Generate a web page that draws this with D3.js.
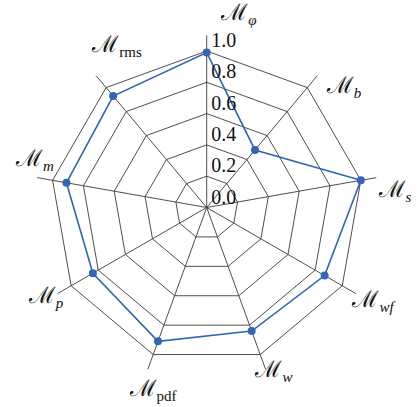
<!DOCTYPE html>
<html><head><meta charset="utf-8">
<script src="https://cdn.jsdelivr.net/npm/d3@7"></script>
<style>body{margin:0;background:#fff}</style></head>
<body>
<svg id="c" width="417" height="407"></svg>
<script>
// ---- data ----
const axisSubs = ["φ","b","s","wf","w","pdf","p","m","rms"];
const subItalic = [true,true,true,true,true,false,true,true,false];
const values = [0.99,0.48,1.0,0.87,0.84,0.91,0.84,0.91,0.93];
const ringTicks = [0.2,0.4,0.6,0.8,1.0];
const tickValues = [0.0,0.2,0.4,0.6,0.8,1.0];
const tickLabels = ["0.0","0.2","0.4","0.6","0.8","1.0"];

// ---- layout ----
const cx = 206.7, cy = 207.5, R = 156.5;
const labelCenters = [[239,13],[344,86],[395,190],[373,300],[274,370],[153,389],[46,296],[35,159],[117,45]];

const svg = d3.select("#c");
const g = svg.append("g").attr("transform", `translate(${cx},${cy})`);
const n = axisSubs.length;
const ang = d3.scaleLinear().domain([0, n]).range([0, 2*Math.PI]);
const r = d3.scaleLinear().domain([0, 1]).range([0, R]);
const idx = d3.range(n);

const ringLine = d3.lineRadial().angle((d,i)=>ang(i)).radius(d=>r(d)).curve(d3.curveLinearClosed);

// rings
g.selectAll("path.ring").data(ringTicks).join("path")
  .attr("class","ring")
  .attr("d", t => ringLine(idx.map(()=>t)))
  .attr("fill","none").attr("stroke","#3a3a3a").attr("stroke-width",0.9);

// spokes
g.selectAll("line.spoke").data(idx).join("line")
  .attr("class","spoke")
  .attr("x1",0).attr("y1",0)
  .attr("x2", i => r(1.1)*Math.sin(ang(i)))
  .attr("y2", i => -r(1.1)*Math.cos(ang(i)))
  .attr("stroke","#3a3a3a").attr("stroke-width",0.9);

// data polygon
const blue = "#3465b3";
g.append("path").attr("d", ringLine(values))
  .attr("fill","none").attr("stroke",blue).attr("stroke-width",1.6);
g.selectAll("circle.pt").data(values).join("circle")
  .attr("class","pt")
  .attr("cx",(d,i)=> r(d)*Math.sin(ang(i)))
  .attr("cy",(d,i)=> -r(d)*Math.cos(ang(i)))
  .attr("r",4).attr("fill",blue);

// radial tick labels
g.selectAll("text.tick").data(tickValues).join("text")
  .attr("class","tick")
  .attr("x",4.5).attr("y", (d)=> -r(d) - 4)
  .attr("font-family","'Liberation Serif','DejaVu Serif',serif")
  .attr("font-size",20).attr("fill","#111")
  .text((d,i)=>tickLabels[i]);

// axis labels
const lab = svg.selectAll("text.lab").data(idx).join("text")
  .attr("class","lab")
  .attr("x", i => labelCenters[i][0])
  .attr("y", i => labelCenters[i][1] + 7)
  .attr("text-anchor","middle")
  .attr("font-family","'DejaVu Serif','Liberation Serif',serif")
  .attr("font-size",23).attr("fill","#111");
lab.append("tspan").text("ℳ");
lab.append("tspan").attr("dy",5).attr("font-size",15)
  .attr("font-style", i => subItalic[i] ? "italic" : "normal")
  .attr("font-family","'Liberation Serif','DejaVu Serif',serif")
  .text(i => axisSubs[i]);
</script>
</body></html>
